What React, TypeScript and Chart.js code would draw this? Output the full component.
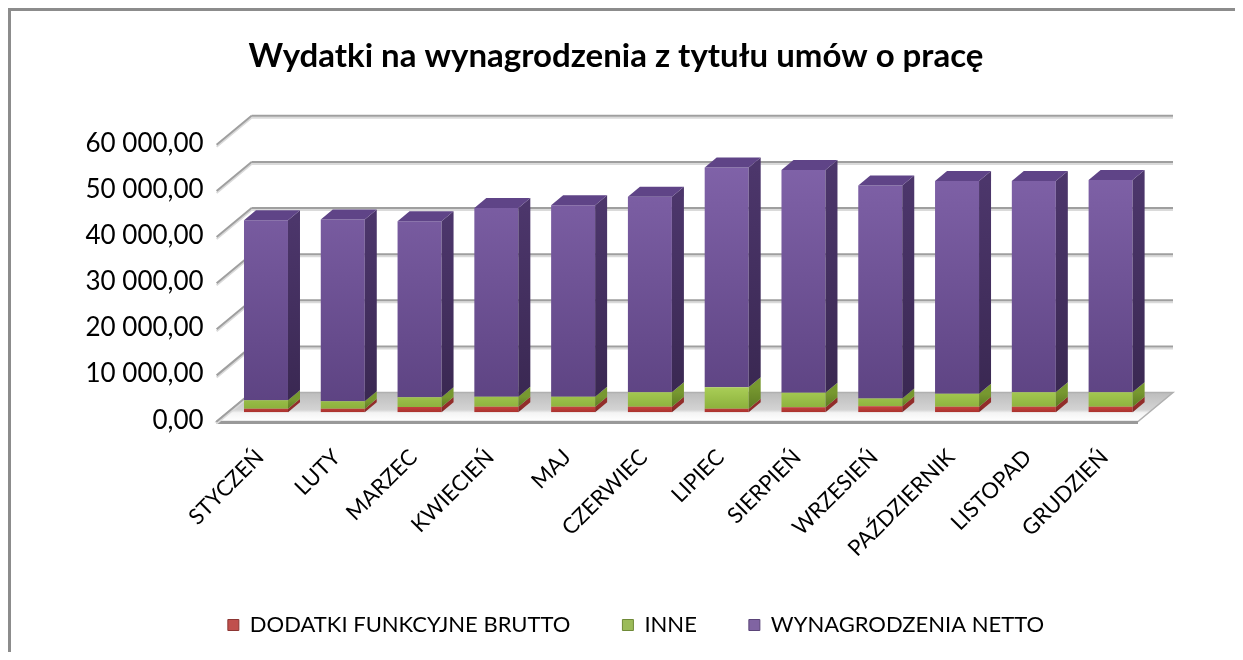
import React, { useEffect, useRef } from 'react';
import { Chart, registerables } from 'chart.js';

Chart.register(...registerables);

// ---------- data ----------
const months = [
  'STYCZEŃ', 'LUTY', 'MARZEC', 'KWIECIEŃ', 'MAJ', 'CZERWIEC',
  'LIPIEC', 'SIERPIEŃ', 'WRZESIEŃ', 'PAŹDZIERNIK', 'LISTOPAD', 'GRUDZIEŃ',
];
const dodatkiFunkcyjneBrutto = [740, 740, 1150, 1170, 1170, 1170, 740, 1080, 1300, 1170, 1170, 1170];
const inne = [1860, 1650, 2100, 2160, 2160, 3160, 4680, 3120, 1670, 2810, 3160, 3160];
const wynagrodzeniaNetto = [39000, 39410, 38150, 40970, 41520, 42370, 47650, 48330, 46210, 46170, 45820, 46040];
const seriesNames = ['DODATKI FUNKCYJNE BRUTTO', 'INNE', 'WYNAGRODZENIA NETTO'];
const yTickValues = [0, 10000, 20000, 30000, 40000, 50000, 60000];
const titleText = 'Wydatki na wynagrodzenia z tytułu umów o pracę';

// ---------- style ----------
const FONT = 'Lato, "Open Sans", sans-serif';
const CW = 1226;
const CH = 649;
const BAR_D = { x: 12, y: 10 };
const BACK = { x: 24, y: 19.7 };
const FRONT = { x: -11, y: 9.3 };

const STYLES = [
  { front: ['#cc4843', '#a9312d'], side: ['#922d2a', '#7a2321'], top: '#d2605b', legend: '#c0504d', legendStroke: '#8c3633' },
  { front: ['#abcf58', '#87ac38'], side: ['#779830', '#5e7b22'], top: '#b4d668', legend: '#9bbb59', legendStroke: '#6f8a38' },
  { front: ['#8466ad', '#5c4281'], side: ['#4c366b', '#3a2852'], top: '#5f4487', legend: '#8064a2', legendStroke: '#5a4478' },
];

function fmt(v: number): string {
  const s = Math.round(v).toString().replace(/\B(?=(\d{3})+(?!\d))/g, ' ');
  return s + ',00';
}

function vGrad(ctx: CanvasRenderingContext2D, y1: number, y2: number, c1: string, c2: string) {
  const g = ctx.createLinearGradient(0, y1, 0, y2);
  g.addColorStop(0, c1);
  g.addColorStop(1, c2);
  return g;
}

function frontColor(i: number) {
  return (c: any) => {
    const ch = c.chart;
    const a = ch.chartArea;
    const ys = ch.scales && ch.scales.y;
    if (!a || !ys) return STYLES[i].legend;
    const y0 = ys.getPixelForValue(0);
    const top = i === 2 ? a.top : i === 1 ? y0 - 26 : y0 - 7;
    return vGrad(ch.ctx, top, y0, STYLES[i].front[0], STYLES[i].front[1]);
  };
}

const threeD = {
  id: 'threeD',
  afterLayout(chart: any) {
    if (chart.legend) {
      chart.legend.left += 20;
      chart.legend.right += 20;
    }
  },
  beforeDatasetsDraw(chart: any) {
    const { ctx, chartArea: a } = chart;
    const ys = chart.scales.y;
    const y0 = ys.getPixelForValue(0);
    const fl = [a.left + FRONT.x, y0 + FRONT.y];
    const fr = [a.right + FRONT.x, y0 + FRONT.y];
    const br = [a.right + BACK.x, y0 - BACK.y];
    const bl = [a.left + BACK.x, y0 - BACK.y];
    ctx.save();
    // floor
    const g = ctx.createLinearGradient(0, bl[1], 0, fl[1]);
    g.addColorStop(0, '#bdbdbd');
    g.addColorStop(0.6, '#d4d4d4');
    g.addColorStop(0.7, '#f4f4f4');
    g.addColorStop(1, '#ffffff');
    ctx.beginPath();
    ctx.moveTo(fl[0], fl[1]);
    ctx.lineTo(fr[0], fr[1]);
    ctx.lineTo(br[0], br[1]);
    ctx.lineTo(bl[0], bl[1]);
    ctx.closePath();
    ctx.fillStyle = g;
    ctx.fill();
    ctx.strokeStyle = '#b0b0b0';
    ctx.lineWidth = 1.5;
    ctx.stroke();
    ctx.beginPath();
    ctx.moveTo(fl[0], fl[1] + 1);
    ctx.lineTo(fr[0], fr[1] + 1);
    ctx.strokeStyle = '#999999';
    ctx.lineWidth = 3;
    ctx.stroke();
    // gridlines (back wall + left wall)
    for (const v of yTickValues) {
      const p = ys.getPixelForValue(v);
      for (const [col, off] of [['#dadada', 2], ['#9f9f9f', 0]] as [string, number][]) {
        ctx.strokeStyle = col;
        ctx.lineWidth = 2;
        ctx.beginPath();
        if (v > 0) {
          ctx.moveTo(a.left + BACK.x, p - BACK.y + off);
          ctx.lineTo(a.right + BACK.x, p - BACK.y + off);
        }
        ctx.moveTo(a.left + FRONT.x, p + FRONT.y + off);
        ctx.lineTo(a.left + BACK.x, p - BACK.y + off);
        ctx.stroke();
      }
    }
    ctx.restore();
  },
  afterDatasetsDraw(chart: any) {
    const { ctx } = chart;
    const n = chart.data.datasets.length;
    ctx.save();
    for (let di = 0; di < n; di++) {
      const meta = chart.getDatasetMeta(di);
      const st = STYLES[di];
      meta.data.forEach((el: any) => {
        const p = el.getProps(['x', 'y', 'base', 'width'], true);
        const left = p.x - p.width / 2;
        const right = p.x + p.width / 2;
        const top = Math.min(p.y, p.base);
        const bot = Math.max(p.y, p.base);
        ctx.beginPath();
        ctx.moveTo(right, top);
        ctx.lineTo(right + BAR_D.x, top - BAR_D.y);
        ctx.lineTo(right + BAR_D.x, bot - BAR_D.y);
        ctx.lineTo(right, bot);
        ctx.closePath();
        ctx.fillStyle = vGrad(ctx, top, bot, st.side[0], st.side[1]);
        ctx.fill();
        if (di === n - 1) {
          ctx.beginPath();
          ctx.moveTo(left, top);
          ctx.lineTo(left + BAR_D.x, top - BAR_D.y);
          ctx.lineTo(right + BAR_D.x, top - BAR_D.y);
          ctx.lineTo(right, top);
          ctx.closePath();
          ctx.fillStyle = st.top;
          ctx.fill();
        }
      });
    }
    ctx.restore();
  },
};

export default function App() {
  const ref = useRef<HTMLCanvasElement>(null);
  useEffect(() => {
    const datasetsData = [dodatkiFunkcyjneBrutto, inne, wynagrodzeniaNetto];
    const chart = new Chart(ref.current as HTMLCanvasElement, {
      type: 'bar',
      data: {
        labels: months,
        datasets: datasetsData.map((d, i) => ({
          label: seriesNames[i],
          data: d,
          backgroundColor: frontColor(i),
          borderWidth: 0,
          barPercentage: 0.573,
          categoryPercentage: 1,
          stack: 's',
        })),
      },
      options: {
        responsive: false,
        animation: false,
        events: [],
        layout: { padding: { left: 0, right: 16, top: 0, bottom: 18 } },
        plugins: {
          tooltip: { enabled: false },
          title: {
            display: true,
            text: titleText,
            color: '#000',
            font: { family: FONT, size: 33, weight: 'bold' },
            padding: { top: 25.2, bottom: 59.7 },
          },
          legend: {
            display: true,
            position: 'bottom',
            maxHeight: 80,
            labels: {
              color: '#000',
              font: { family: FONT, size: 22 },
              boxWidth: 11,
              boxHeight: 11,
              padding: 52,
              generateLabels: () =>
                seriesNames.map((name, i) => ({
                  text: name,
                  fillStyle: STYLES[i].legend,
                  strokeStyle: STYLES[i].legendStroke,
                  lineWidth: 1,
                  hidden: false,
                  datasetIndex: i,
                })),
            },
          },
        },
        scales: {
          x: {
            stacked: true,
            offset: true,
            grid: { display: false, drawTicks: false },
            border: { display: false },
            ticks: {
              color: '#000',
              font: { family: FONT, size: 22 },
              minRotation: 45,
              maxRotation: 45,
              autoSkip: false,
              padding: 32,
              labelOffset: -6,
            },
            afterFit: (s: any) => { s.height = 149.8; },
          },
          y: {
            stacked: true,
            min: 0,
            max: 60000,
            grid: { display: false, drawTicks: false },
            border: { display: false },
            ticks: {
              stepSize: 10000,
              color: '#000',
              font: { family: FONT, size: 26 },
              padding: 24,
              labelOffset: 8,
              callback: (v: any) => fmt(Number(v)),
            },
            afterFit: (s: any) => { s.width = 216.6; },
          },
          yR: {
            type: 'linear',
            position: 'right',
            display: true,
            grid: { display: false, drawTicks: false },
            border: { display: false },
            ticks: { display: false },
            afterFit: (s: any) => { s.width = 72; },
          },
        },
      } as any,
      plugins: [threeD],
    });
    return () => chart.destroy();
  }, []);

  return (
    <div
      style={{
        width: 1232,
        height: 652,
        boxSizing: 'border-box',
        borderTop: '3px solid #8c8c8c',
        borderLeft: '3px solid #8c8c8c',
        borderRight: '3px solid #8c8c8c',
        overflow: 'hidden',
        marginBottom: -8,
        background: '#fff',
      }}
    >
      <canvas ref={ref} width={CW} height={CH} style={{ display: 'block' }} />
    </div>
  );
}
